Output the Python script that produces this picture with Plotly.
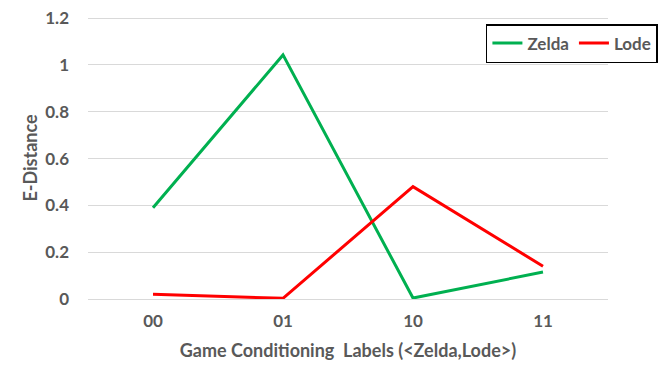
import plotly.graph_objects as go

labels = ["00", "01", "10", "11"]
zelda = [0.39, 1.043, 0.004, 0.115]
lode = [0.02, 0.003, 0.48, 0.14]
y_ticks = [0, 0.2, 0.4, 0.6, 0.8, 1, 1.2]
y_ticktext = ["0", "0.2", "0.4", "0.6", "0.8", "1", "1.2"]

font = dict(family="Lato, Open Sans, sans-serif", color="#595959")

fig = go.Figure()
fig.add_trace(go.Scatter(x=labels, y=zelda, mode="lines", name="Zelda",
                         line=dict(color="#00B050", width=3)))
fig.add_trace(go.Scatter(x=labels, y=lode, mode="lines", name="Lode",
                         line=dict(color="#FF0000", width=3)))

# page body has an 8px margin, so the figure is sized to fit inside it
fig.update_layout(
    width=663, height=378,
    margin=dict(l=80, r=63, t=9, b=87),
    plot_bgcolor="white", paper_bgcolor="white",
    font=dict(**font, size=16),
    showlegend=True,
    legend=dict(orientation="h", x=1.096, y=0.975, xanchor="right", yanchor="top",
                bordercolor="black", borderwidth=1.5, bgcolor="white",
                itemwidth=30,
                font=dict(size=17, weight="bold", family=font["family"], color="#595959")),
    xaxis=dict(
        type="category", range=[-0.5, 3.5], showgrid=False, showline=False,
        zeroline=False, ticks="", automargin=False, ticklabelstandoff=10,
        tickfont=dict(size=17, weight="bold"),
        title=dict(text="Game Conditioning  Labels (<Zelda,Lode>)",
                   font=dict(size=18, weight="bold"), standoff=14),
    ),
    yaxis=dict(
        range=[0, 1.205], tickmode="array", tickvals=y_ticks, ticktext=y_ticktext,
        automargin=False, ticklabeloverflow="allow",
        showgrid=True, gridcolor="#D9D9D9", gridwidth=1,
        zeroline=True, zerolinecolor="#D9D9D9", zerolinewidth=1,
        showline=False, ticks="", ticklabelstandoff=18,
        tickfont=dict(size=17, weight="bold"),
        title=dict(text="E-Distance", font=dict(size=18, weight="bold"), standoff=2),
    ),
)

fig.write_html("out.html")
